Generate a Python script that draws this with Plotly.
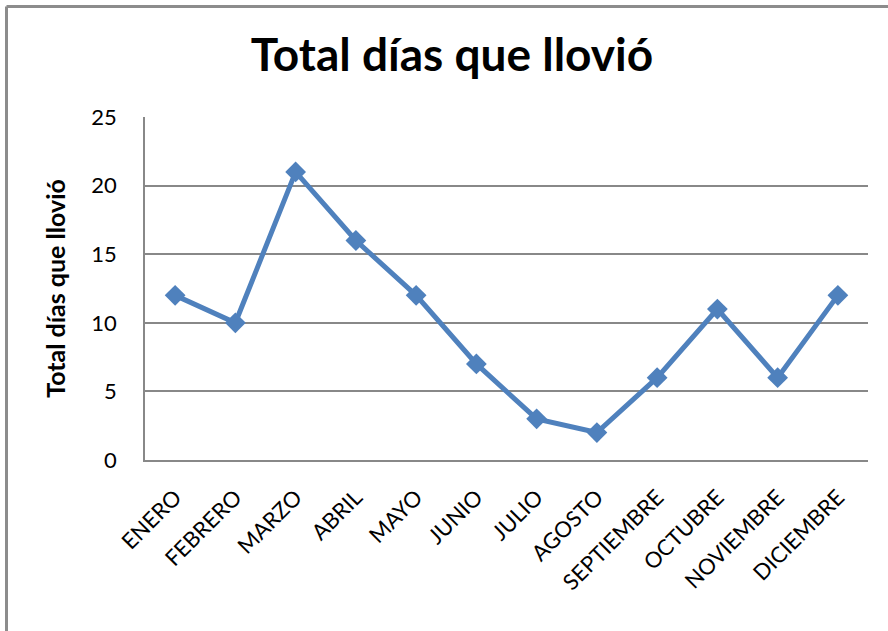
import plotly.graph_objects as go

meses = ["ENERO", "FEBRERO", "MARZO", "ABRIL", "MAYO", "JUNIO", "JULIO",
         "AGOSTO", "SEPTIEMBRE", "OCTUBRE", "NOVIEMBRE", "DICIEMBRE"]
dias_lluvia = [12, 10, 21, 16, 12, 7, 3, 2, 6, 11, 6, 12]
y_ticks = [0, 5, 10, 15, 20, 25]

W, H = 888, 631
ml, mr, mt, mb = 145, 20, 117, 171
pw, ph = W - ml - mr, H - mt - mb

fig = go.Figure()
fig.add_trace(go.Scatter(
    x=meses, y=dias_lluvia, mode="lines+markers",
    line=dict(color="#4F81BD", width=5),
    marker=dict(symbol="diamond", size=16, color="#4F81BD"),
    showlegend=False,
))

font_family = "Lato, Carlito, Calibri, sans-serif"
fig.update_layout(
    width=W, height=H,
    margin=dict(l=ml, r=mr, t=mt, b=mb),
    paper_bgcolor="white", plot_bgcolor="white",
    font=dict(family=font_family, color="black"),
    title=dict(text="<b>Total días que llovió</b>", x=452 / W, xanchor="center",
               y=1 - 55 / H, yanchor="middle",
               font=dict(size=46, family=font_family, color="black")),
    xaxis=dict(type="category", range=[-0.5, 11.5], tickangle=-45,
               tickfont=dict(size=22), showgrid=False, showline=True,
               linecolor="#888888", linewidth=1.5, ticks="", zeroline=False,
               ticklabelstandoff=14, automargin=False),
    yaxis=dict(range=[0, 25], tickvals=y_ticks, tickfont=dict(size=22),
               showgrid=True, gridcolor="#888888", gridwidth=1.5,
               showline=True, linecolor="#888888", linewidth=1.5,
               ticks="", zeroline=False, ticklabelstandoff=22,
               automargin=False,
               title=dict(text="<b>Total días que llovió</b>",
                          font=dict(size=25), standoff=19)),
)

# chart outer border (only its left and top edges fall inside the image)
x0 = (6.5 - ml) / pw
y0 = (H - mb - 6.5) / ph
border = dict(color="#8c8c8c", width=3)
fig.add_shape(type="line", xref="paper", yref="paper",
              x0=x0, x1=x0, y0=-0.8, y1=y0, line=border)
fig.add_shape(type="line", xref="paper", yref="paper",
              x0=x0, x1=1.2, y0=y0, y1=y0, line=border)

fig.write_html("out.html", config={"displayModeBar": False},
               post_script="document.body.style.margin='0';")
